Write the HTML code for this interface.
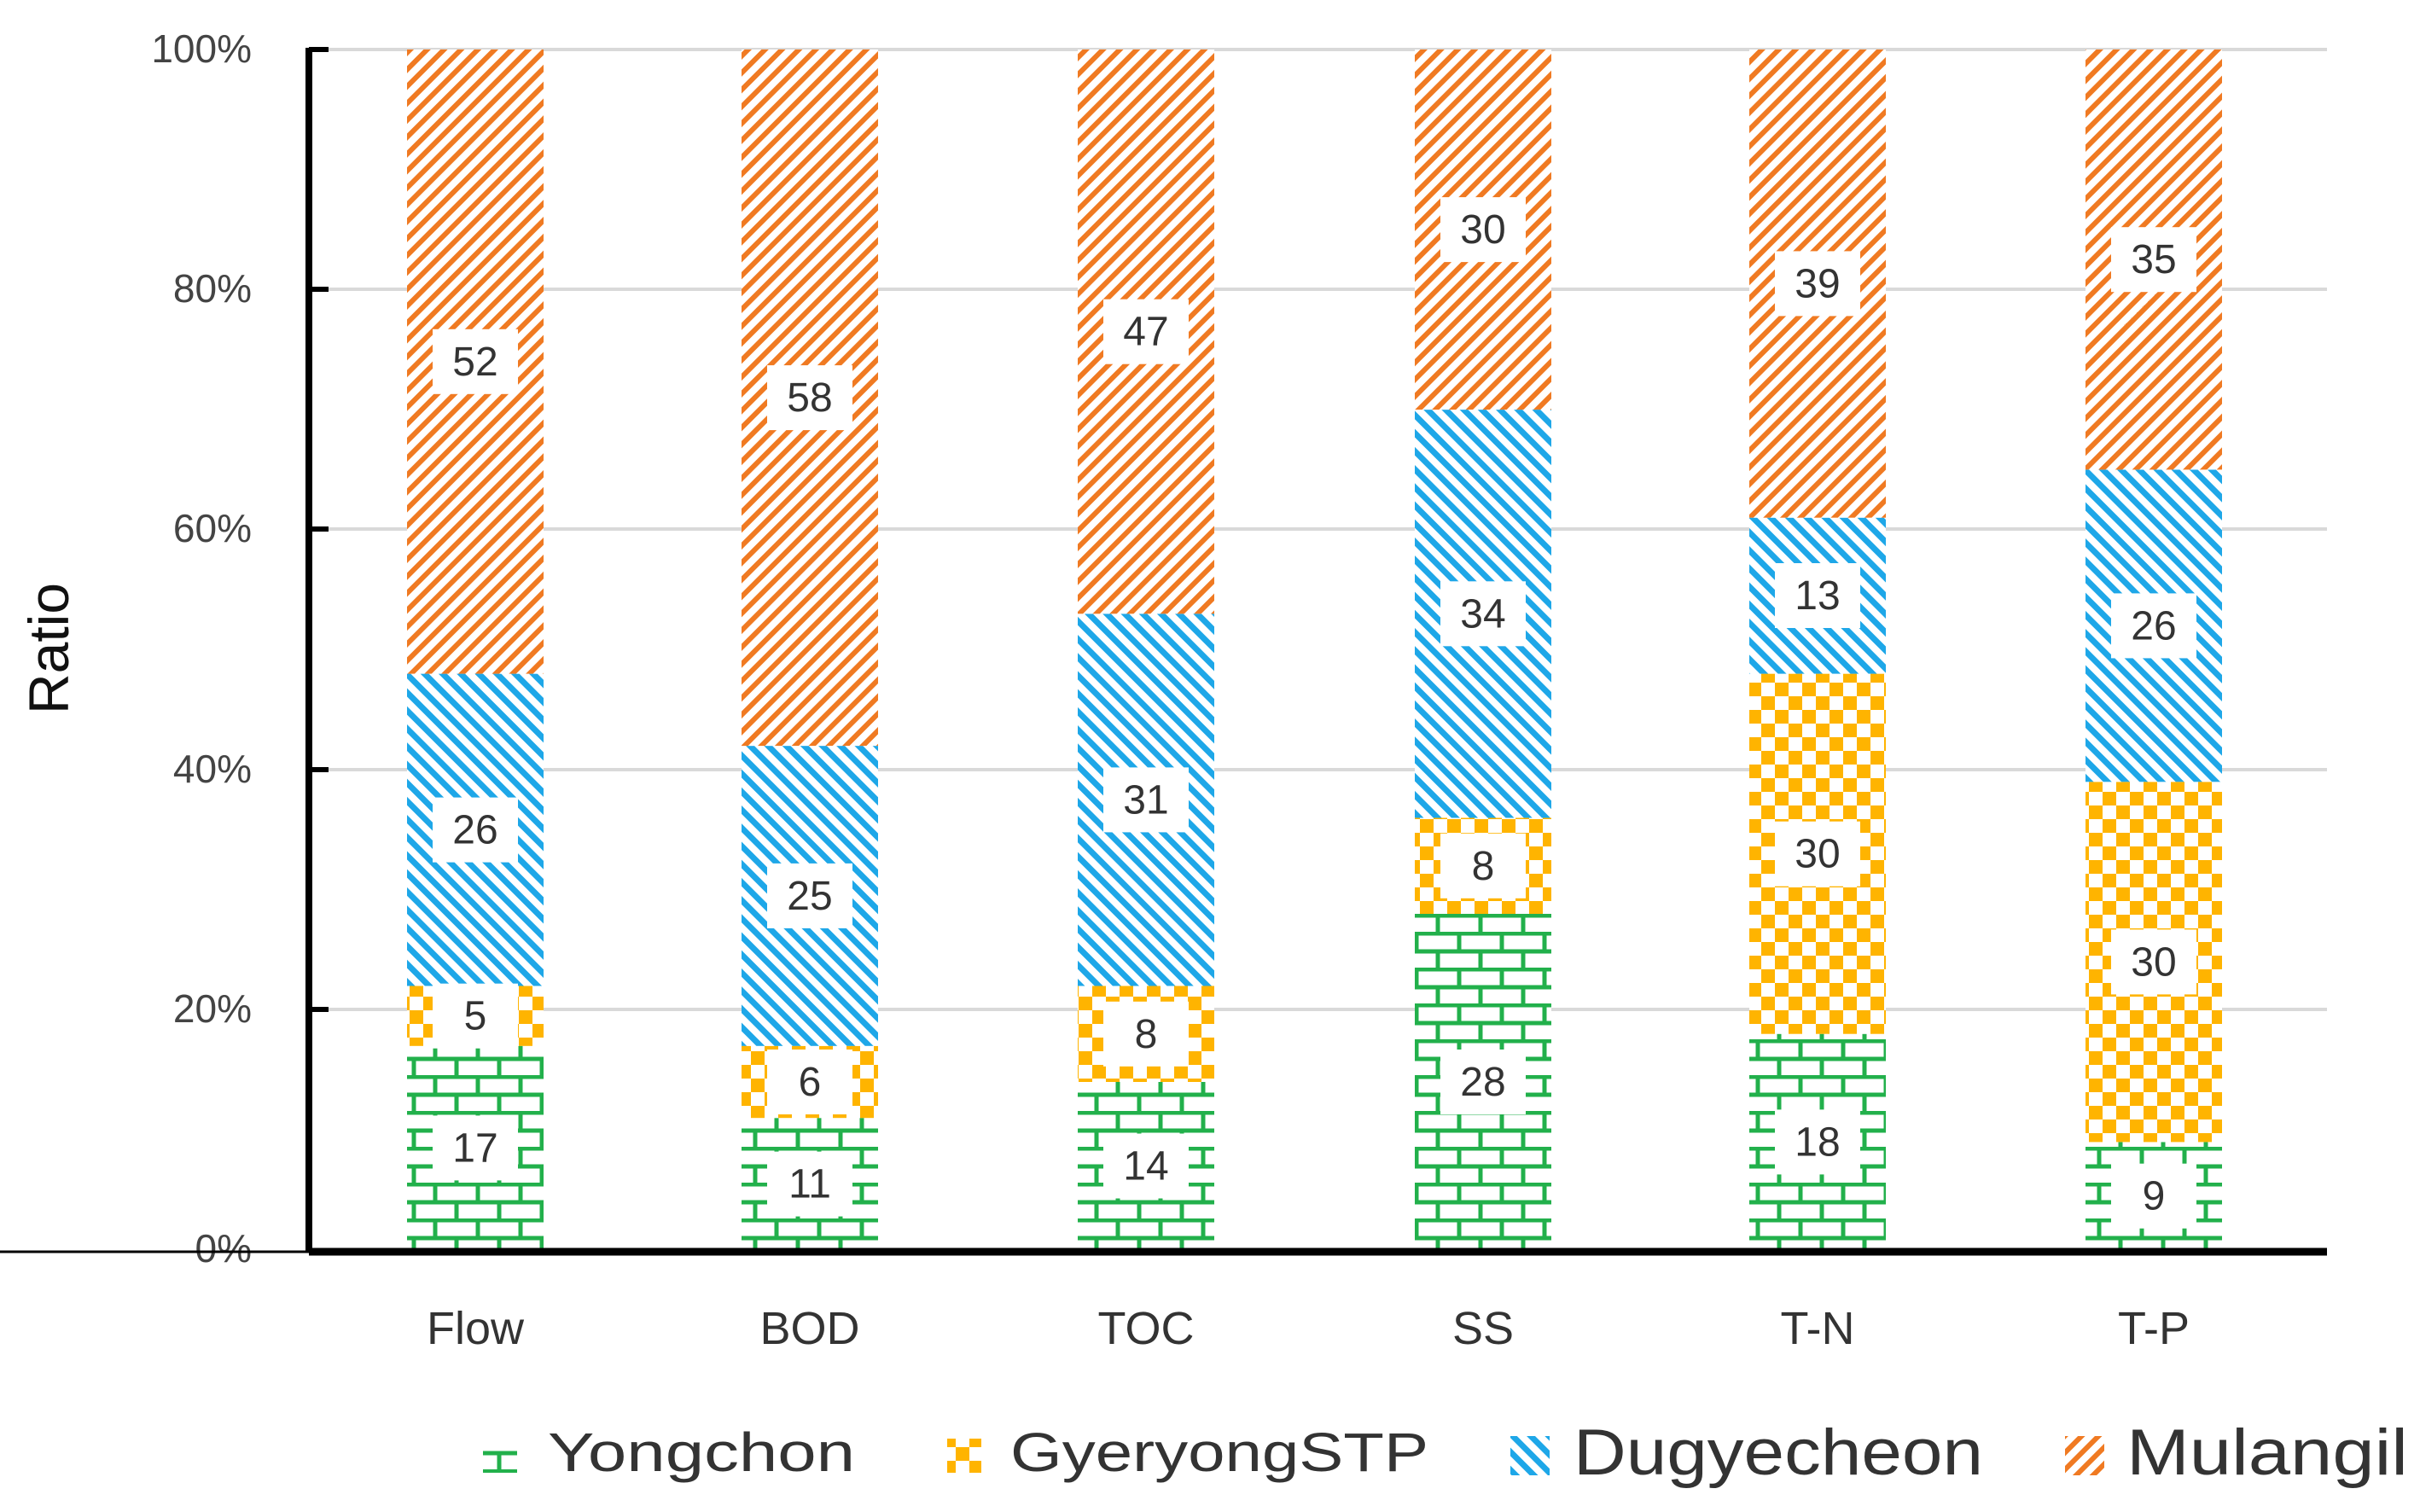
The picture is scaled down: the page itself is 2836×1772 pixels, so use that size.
<!DOCTYPE html>
<html><head><meta charset="utf-8"><style>html,body{margin:0;padding:0;background:#fff}svg{display:block}</style></head>
<body>
<svg width="2836" height="1772" viewBox="0 0 2836 1772" xmlns="http://www.w3.org/2000/svg" font-family="Liberation Sans, sans-serif">
<defs>
<pattern id="brick" width="50" height="42" patternUnits="userSpaceOnUse">
<rect width="50" height="42" fill="#fff"/>
<g stroke="#22b04b" stroke-width="5">
<line x1="0" y1="2" x2="50" y2="2"/><line x1="0" y1="23" x2="50" y2="23"/>
<line x1="10" y1="2" x2="10" y2="23"/><line x1="35" y1="23" x2="35" y2="42"/>
</g></pattern>
<pattern id="check" width="32" height="32" patternUnits="userSpaceOnUse">
<rect width="32" height="32" fill="#fff"/>
<rect x="0" y="0" width="16" height="16" fill="#ffb400"/><rect x="16" y="16" width="16" height="16" fill="#ffb400"/>
</pattern>
<pattern id="blue" width="15" height="15" patternUnits="userSpaceOnUse" patternTransform="rotate(-45)">
<rect width="15" height="15" fill="#fff"/><rect x="0" y="0" width="7" height="15" fill="#1ea7e8"/>
</pattern>
<pattern id="orange" width="14" height="14" patternUnits="userSpaceOnUse" patternTransform="rotate(45)">
<rect width="14" height="14" fill="#fff"/><rect x="0" y="0" width="6" height="14" fill="#f07a22"/>
</pattern>
</defs>
<g stroke="#d9d9d9" stroke-width="4">
<line x1="362" y1="58" x2="2727" y2="58"/><line x1="362" y1="339" x2="2727" y2="339"/>
<line x1="362" y1="620" x2="2727" y2="620"/><line x1="362" y1="902" x2="2727" y2="902"/>
<line x1="362" y1="1183" x2="2727" y2="1183"/>
</g>
<g font-size="46" fill="#444" text-anchor="end">
<text x="295" y="73">100%</text><text x="295" y="354">80%</text><text x="295" y="635">60%</text>
<text x="295" y="917">40%</text><text x="295" y="1198">20%</text><text x="295" y="1479">0%</text>
</g>
<text transform="translate(80,760) rotate(-90)" font-size="66" fill="#111" text-anchor="middle">Ratio</text>

<g>
<rect x="477" y="1225.8" width="160" height="239.2" fill="url(#brick)"/>
<rect x="477" y="1155.5" width="160" height="70.3" fill="url(#check)"/>
<rect x="477" y="789.6" width="160" height="365.9" fill="url(#blue)"/>
<rect x="477" y="58" width="160" height="731.6" fill="url(#orange)"/>

<rect x="869" y="1310.2" width="160" height="154.8" fill="url(#brick)"/>
<rect x="869" y="1225.8" width="160" height="84.4" fill="url(#check)"/>
<rect x="869" y="874.1" width="160" height="351.7" fill="url(#blue)"/>
<rect x="869" y="58" width="160" height="816.1" fill="url(#orange)"/>

<rect x="1263" y="1268" width="160" height="197" fill="url(#brick)"/>
<rect x="1263" y="1155.5" width="160" height="112.5" fill="url(#check)"/>
<rect x="1263" y="719.3" width="160" height="436.2" fill="url(#blue)"/>
<rect x="1263" y="58" width="160" height="661.3" fill="url(#orange)"/>

<rect x="1658" y="1071" width="160" height="394" fill="url(#brick)"/>
<rect x="1658" y="958.5" width="160" height="112.5" fill="url(#check)"/>
<rect x="1658" y="480.1" width="160" height="478.4" fill="url(#blue)"/>
<rect x="1658" y="58" width="160" height="422.1" fill="url(#orange)"/>

<rect x="2050" y="1211.7" width="160" height="253.3" fill="url(#brick)"/>
<rect x="2050" y="789.6" width="160" height="422.1" fill="url(#check)"/>
<rect x="2050" y="606.7" width="160" height="182.9" fill="url(#blue)"/>
<rect x="2050" y="58" width="160" height="548.7" fill="url(#orange)"/>

<rect x="2444" y="1338.4" width="160" height="126.6" fill="url(#brick)"/>
<rect x="2444" y="916.3" width="160" height="422.1" fill="url(#check)"/>
<rect x="2444" y="550.4" width="160" height="365.9" fill="url(#blue)"/>
<rect x="2444" y="58" width="160" height="492.4" fill="url(#orange)"/>
</g>

<g fill="#fff">
<rect x="507" y="1307.4" width="100" height="76"/><rect x="507" y="1152.7" width="100" height="76"/><rect x="507" y="934.6" width="100" height="76"/><rect x="507" y="385.8" width="100" height="76"/>
<rect x="899" y="1349.6" width="100" height="76"/><rect x="899" y="1230" width="100" height="76"/><rect x="899" y="1011.9" width="100" height="76"/><rect x="899" y="428.1" width="100" height="76"/>
<rect x="1293" y="1328.5" width="100" height="76"/><rect x="1293" y="1173.8" width="100" height="76"/><rect x="1293" y="899.4" width="100" height="76"/><rect x="1293" y="350.7" width="100" height="76"/>
<rect x="1688" y="1230" width="100" height="76"/><rect x="1688" y="976.8" width="100" height="76"/><rect x="1688" y="681.3" width="100" height="76"/><rect x="1688" y="231.1" width="100" height="76"/>
<rect x="2080" y="1300.4" width="100" height="76"/><rect x="2080" y="962.7" width="100" height="76"/><rect x="2080" y="660" width="100" height="76"/><rect x="2080" y="294.4" width="100" height="76"/>
<rect x="2474" y="1363.7" width="100" height="76"/><rect x="2474" y="1089.4" width="100" height="76"/><rect x="2474" y="695.4" width="100" height="76"/><rect x="2474" y="266.2" width="100" height="76"/>
</g>
<g font-size="48" fill="#333" text-anchor="middle">
<text x="557" y="1361.4">17</text><text x="557" y="1206.7">5</text><text x="557" y="988.6">26</text><text x="557" y="439.8">52</text>
<text x="949" y="1403.6">11</text><text x="949" y="1284">6</text><text x="949" y="1065.9">25</text><text x="949" y="482.1">58</text>
<text x="1343" y="1382.5">14</text><text x="1343" y="1227.8">8</text><text x="1343" y="953.4">31</text><text x="1343" y="404.7">47</text>
<text x="1738" y="1284">28</text><text x="1738" y="1030.8">8</text><text x="1738" y="735.3">34</text><text x="1738" y="285.1">30</text>
<text x="2130" y="1354.4">18</text><text x="2130" y="1016.7">30</text><text x="2130" y="714">13</text><text x="2130" y="348.4">39</text>
<text x="2524" y="1417.7">9</text><text x="2524" y="1143.4">30</text><text x="2524" y="749.4">26</text><text x="2524" y="320.2">35</text>
</g>

<line x1="362" y1="56" x2="362" y2="1467" stroke="#000" stroke-width="8"/>
<g stroke="#000" stroke-width="6">
<line x1="362" y1="58" x2="385" y2="58"/><line x1="362" y1="339" x2="385" y2="339"/>
<line x1="362" y1="620" x2="385" y2="620"/><line x1="362" y1="902" x2="385" y2="902"/>
<line x1="362" y1="1183" x2="385" y2="1183"/>
</g>
<line x1="0" y1="1467" x2="362" y2="1467" stroke="#000" stroke-width="3"/>
<line x1="362" y1="1467" x2="2727" y2="1467" stroke="#000" stroke-width="9"/>
<g font-size="54" fill="#333" text-anchor="middle">
<text x="557" y="1575">Flow</text><text x="949" y="1575">BOD</text><text x="1343" y="1575">TOC</text>
<text x="1738" y="1575">SS</text><text x="2130" y="1575">T-N</text><text x="2524" y="1575">T-P</text>
</g>
<g>
<rect x="566" y="1686" width="40" height="40" fill="url(#brick)"/>
<text x="642" y="1724" font-size="64" fill="#333" textLength="360" lengthAdjust="spacingAndGlyphs">Yongchon</text>
<rect x="1110" y="1686" width="40" height="40" fill="url(#check)"/>
<text x="1184" y="1724" font-size="64" fill="#333" textLength="490" lengthAdjust="spacingAndGlyphs">GyeryongSTP</text>
<rect x="1770" y="1683" width="46" height="46" fill="url(#blue)"/>
<text x="1844" y="1728" font-size="76" fill="#333" textLength="480" lengthAdjust="spacingAndGlyphs">Dugyecheon</text>
<rect x="2420" y="1683" width="46" height="46" fill="url(#orange)"/>
<text x="2492" y="1728" font-size="76" fill="#333" textLength="330" lengthAdjust="spacingAndGlyphs">Mulangil</text>
</g>
</svg>
</body></html>
